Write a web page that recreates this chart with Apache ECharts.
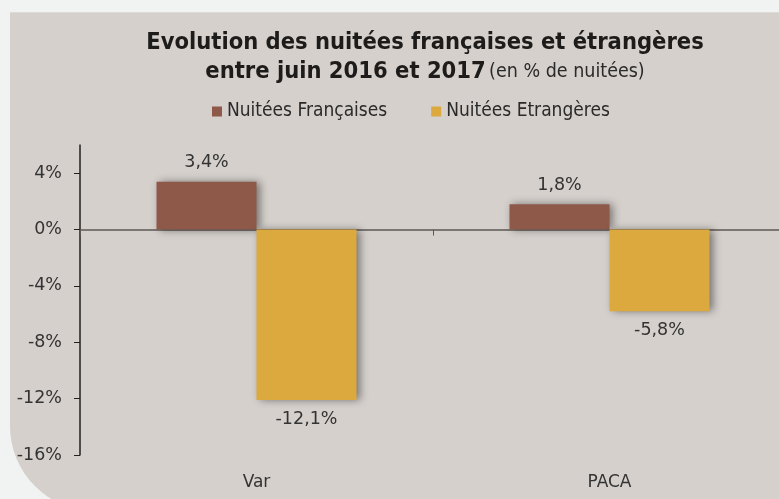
<!DOCTYPE html>
<html>
<head>
<meta charset="utf-8">
<script src="https://cdn.jsdelivr.net/npm/echarts@6/dist/echarts.min.js"></script>
<style>
  html, body { margin: 0; padding: 0; overflow: hidden; background: #f1f3f3; }
  .panel {
    position: absolute; left: 10px; top: 12px; width: 800px; height: 498px;
    background: #d5d0cc; border-top: 1px solid #dedad7;
    border-bottom-left-radius: 85px;
  }
  #chart { position: absolute; left: 0; top: 0; width: 779px; height: 499px; }
</style>
</head>
<body>
<div class="panel"></div>
<div id="chart"></div>
<script>
  // donnees
  const categories = ['Var', 'PACA'];
  const nuiteesFrancaises = [3.4, 1.8];
  const nuiteesEtrangeres = [-12.1, -5.8];
  const yTicks = [-16, -12, -8, -4, 0, 4];

  const labelFont = 'DejaVu Sans';
  const narrowFont = 'DejaVu Sans Condensed';

  function fmt(v) {
    return v.toFixed(1).replace('.', ',') + '%';
  }

  // label au-dessus pour les positifs, en dessous pour les negatifs
  function toItems(values) {
    return values.map(function (v) {
      return { value: v, label: { position: v < 0 ? 'bottom' : 'top' } };
    });
  }

  const chart = echarts.init(document.getElementById('chart'));

  chart.setOption({
    backgroundColor: 'transparent',
    color: ['#8e5948', '#dba93e'],
    graphic: [{
      type: 'text',
      x: 425,
      y: 28,
      style: {
        text: '{b|Evolution des nuitées françaises et étrangères}\n{b|entre juin 2016 et 2017} {n|(en % de nuitées)}',
        textAlign: 'center',
        fill: '#1e1c1b',
        rich: {
          b: { fontFamily: narrowFont, fontWeight: 'bold', fontSize: 23.5, lineHeight: 29, fill: '#1e1c1b' },
          n: { fontFamily: narrowFont, fontSize: 19.5, lineHeight: 29, fill: '#2a2a2a' }
        }
      }
    }],
    legend: {
      left: 207,
      top: 97,
      itemWidth: 10,
      itemHeight: 10,
      itemGap: 44,
      icon: 'rect',
      textStyle: { fontFamily: narrowFont, fontSize: 19, color: '#2a2a2a' },
      data: ['Nuitées Françaises', 'Nuitées Etrangères']
    },
    grid: {
      left: 80,
      right: -7,
      top: 145,
      bottom: 44,
      outerBoundsMode: 'none'
    },
    xAxis: [
      {
        type: 'category',
        data: categories,
        position: 'bottom',
        axisLine: { show: false, onZero: false },
        axisTick: { show: false },
        axisLabel: { margin: 19, fontFamily: labelFont, fontSize: 17, color: '#333' }
      },
      {
        type: 'category',
        data: categories,
        position: 'bottom',
        axisLine: { show: true, onZero: true, lineStyle: { color: '#5e5853', width: 1.5 } },
        axisTick: { show: true, length: 6, lineStyle: { color: '#5e5853' } },
        axisLabel: { show: false }
      }
    ],
    yAxis: {
      type: 'value',
      min: -16,
      max: 6,
      interval: 4,
      splitLine: { show: false },
      axisLine: { show: true, lineStyle: { color: '#222', width: 1.5 } },
      axisTick: { show: true, length: 6, customValues: yTicks, lineStyle: { color: '#222' } },
      axisLabel: {
        margin: 18,
        customValues: yTicks,
        fontFamily: labelFont,
        fontSize: 17.5,
        color: '#333',
        formatter: function (v) { return v + '%'; }
      }
    },
    series: [
      {
        name: 'Nuitées Françaises',
        type: 'bar',
        barWidth: 100,
        barGap: '0%',
        data: toItems(nuiteesFrancaises),
        itemStyle: { shadowBlur: 8, shadowColor: 'rgba(0,0,0,0.45)', shadowOffsetX: 3 },
        label: {
          show: true, distance: 10, fontFamily: labelFont, fontSize: 17.5, color: '#333',
          formatter: function (p) { return fmt(p.value); }
        }
      },
      {
        name: 'Nuitées Etrangères',
        type: 'bar',
        barWidth: 100,
        barGap: '0%',
        data: toItems(nuiteesEtrangeres),
        itemStyle: { shadowBlur: 8, shadowColor: 'rgba(0,0,0,0.45)', shadowOffsetX: 3 },
        label: {
          show: true, distance: 10, fontFamily: labelFont, fontSize: 17.5, color: '#333',
          formatter: function (p) { return fmt(p.value); }
        }
      }
    ]
  });
</script>
</body>
</html>
